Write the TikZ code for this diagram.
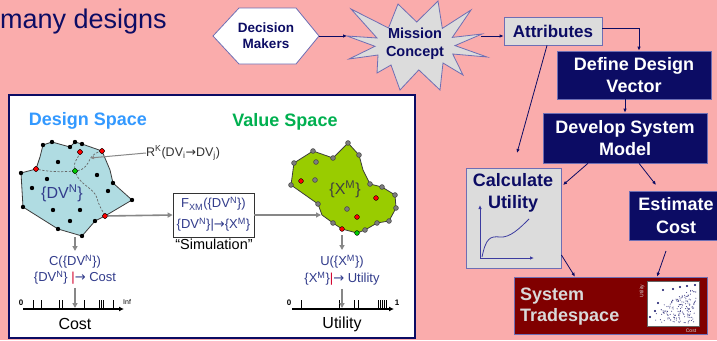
\documentclass[tikz,border=0pt]{standalone}
\usepackage{fontspec}
\setmainfont{Liberation Sans}
\newfontfamily\dejavu{DejaVu Sans}
\usetikzlibrary{arrows.meta}
\definecolor{bgpink}{RGB}{250,172,172}
\definecolor{navy}{RGB}{12,12,100}
\definecolor{boxgray}{RGB}{220,220,220}
\definecolor{darkred}{RGB}{128,0,0}
\definecolor{dsblue}{RGB}{176,220,226}
\definecolor{vsgreen}{RGB}{153,204,0}
\definecolor{titleblue}{RGB}{51,153,255}
\definecolor{titlegreen}{RGB}{0,176,80}
\definecolor{labblue}{RGB}{50,60,140}
\definecolor{linegray}{RGB}{135,135,135}
\definecolor{dotgray}{RGB}{125,125,125}
\definecolor{edgegray}{RGB}{60,60,60}
\definecolor{lavender}{RGB}{110,110,180}
\definecolor{plotblue}{RGB}{60,60,160}
\newcommand{\rarr}{{\dejavu\char"2192}}
\begin{document}
\begin{tikzpicture}[x=1pt,y=-1pt,
  flow/.style={draw=navy, line width=0.8pt, -{Latex[length=4pt,width=3.5pt]}},
  navybox/.style={fill=navy, draw=lavender, line width=0.6pt, text=white, font=\bfseries\fontsize{18}{22}\selectfont, align=center, inner sep=0},
  graybox/.style={fill=boxgray, draw=lavender, line width=0.8pt, text=navy, align=center, inner sep=0},
  gflow/.style={draw=linegray, line width=1.6pt, -{Triangle[length=5pt,width=5pt]}},
  bdot/.style={circle, fill=black, inner sep=0, minimum size=4.4pt},
  rdot/.style={circle, fill=red, draw=black, line width=0.4pt, inner sep=0, minimum size=4.8pt},
  gdot/.style={circle, fill=green!80!black, draw=black, line width=0.4pt, inner sep=0, minimum size=4.8pt},
  vdot/.style={circle, fill=dotgray, draw=edgegray, line width=0.5pt, inner sep=0, minimum size=4.8pt},
  dsh/.style={draw=black!60, line width=0.7pt, dash pattern=on 2.2pt off 1.6pt},
  lab/.style={inner sep=0, text=labblue, font=\fontsize{13}{15}\selectfont},
  tick/.style={line width=0.9pt}
]
\fill[bgpink] (0,0) rectangle (717,340);
\useasboundingbox (0,0) rectangle (717,340);

% title fragment
\node[anchor=base west, inner sep=0, text=navy, font=\fontsize{27}{30}\selectfont] (many) at (0,28) {many designs};

% Decision makers hexagon
\node[minimum width=106pt, minimum height=57pt, inner sep=0] (dm) at (266,36) {};
\filldraw[fill=white, draw=lavender, line width=0.8pt] (213,36) -- (239,8) -- (296,8) -- (319,36) -- (296,64) -- (239,64) -- cycle;
\node[align=center, text=navy, font=\bfseries\fontsize{13.5}{16}\selectfont, inner sep=0] (dmt) at (dm.center) {Decision\\Makers};

% Mission concept star
\filldraw[fill=boxgray, draw=lavender, line width=0.8pt]
 (347,36) -- (377,38) -- (351,9) -- (388.5,28) -- (398,4) -- (416.7,22) -- (438,1) -- (442.3,28.4) -- (471,10) -- (452.3,37.4) -- (482,34) -- (455,45.6) -- (487,57) -- (452.7,54) -- (463,75) -- (443,63) -- (440,90) -- (418.8,69.9) -- (400,90) -- (391,65) -- (377,73) -- (378,55) -- (349,59) -- (375,46.3) -- cycle;
\node[align=center, text=navy, font=\bfseries\fontsize{14.5}{18}\selectfont, inner sep=0] (mc) at (415,44) {Mission\\Concept};
\coordinate (mcL) at (347,36);
\coordinate (mcR) at (481,36);

% right flow boxes
\node[graybox, minimum width=98pt, minimum height=28pt, font=\bfseries\fontsize{17}{20}\selectfont] (attr) at (553,31) {Attributes};
\node[navybox, minimum width=154pt, minimum height=48pt] (ddv) at (634,75) {Define Design\\Vector};
\node[navybox, minimum width=164pt, minimum height=50pt] (dsm) at (625,138) {Develop System\\Model};
\node[graybox, minimum width=95pt, minimum height=100pt] (cu) at (513.5,218) {};
\node[align=center, text=navy, font=\bfseries\fontsize{18}{21.5}\selectfont, inner sep=0] (cut) at (513,193) {Calculate\\Utility};
\node[navybox, minimum width=96pt, minimum height=49pt] (ec) at (677,215.5) {};
\node[align=center, text=white, font=\bfseries\fontsize{18}{23}\selectfont, inner sep=0] (ect) at (676,215.5) {Estimate\\Cost};
\node[fill=darkred, draw=lavender, line width=0.6pt, minimum width=193pt, minimum height=57pt, inner sep=0] (ts) at (610.5,305.5) {};
\node[anchor=west, align=left, text=white!85!black, font=\bfseries\fontsize{18}{21}\selectfont, inner sep=0] (tst) at (520,306.5) {System\\Tradespace};
\node[fill=white, draw=black!60, line width=0.5pt, minimum width=52pt, minimum height=45pt, inner sep=0] (sp) at (673,303.5) {};
\node[rotate=90, text=white!85!black, font=\fontsize{5}{6}\selectfont, inner sep=0] (spu) at (642,291) {Utility};
\node[text=white!85!black, font=\fontsize{5}{6}\selectfont, inner sep=0] (spc) at (691,331) {Cost};
\pgfmathsetseed{5}
\foreach \i in {1,...,150}{
  \pgfmathsetmacro{\u}{sqrt(rnd)}
  \pgfmathsetmacro{\v}{rnd}
  \pgfmathsetmacro{\px}{651+45*\u}
  \pgfmathsetmacro{\py}{323-36*\v*(0.3+0.7*\u)}
  \fill[navy!80] (\px,\py) circle (0.55pt);
}
\foreach \p in {(650,317),(655,311),(658,303),(663,290),(673,289),(680,287),(687,286),(695,285)}
  \fill[navy] \p circle (1.1pt);

% utility sketch
\draw[plotblue, line width=0.8pt, -{Latex[length=4pt,width=3.5pt]}] (480,258) -- (480,205);
\draw[plotblue, line width=0.8pt, -{Latex[length=4pt,width=3.5pt]}] (480,258) -- (534,258);
\draw[plotblue, line width=0.8pt] (482,257) .. controls (486,238) and (490,236) .. (500,237) .. controls (510,238) and (520,228) .. (529,219);

% right flow arrows
\coordinate (cuin) at (517,153);
\coordinate (cuR) at (563,185);
\coordinate (ecin) at (656,185);
\coordinate (ecout) at (666,251);
\draw[flow] (dm.east) -- (mcL);
\draw[flow] (mcR) -- (mcR -| attr.west);
\draw[flow] ([yshift=3pt]attr.east) -| ([xshift=5pt]ddv.north);
\draw[flow] (dsm.north |- ddv.south) -- (dsm.north);
\draw[flow] ([xshift=-6pt]attr.south) -- (cuin);
\draw[flow] ([xshift=-37pt]dsm.south) -- (cuR);
\draw[flow] ([xshift=14pt]dsm.south) -- (ecin);
\draw[flow] ([yshift=-37pt]cu.east) -- ([xshift=-35.5pt]ts.north);
\draw[flow] (ecout) -- ([xshift=46.5pt]ts.north);

% left panel
\filldraw[fill=white, draw=navy, line width=2.5pt] (9,95) rectangle (415,338);
\node[text=titleblue, font=\bfseries\fontsize{18}{20}\selectfont, inner sep=0] (dst) at (88,121) {Design Space};
\node[text=titlegreen, font=\bfseries\fontsize{18}{20}\selectfont, inner sep=0] (vst) at (285,122) {Value Space};

% design blob
\filldraw[fill=dsblue, draw=edgegray, line width=0.8pt]
 (43,145) -- (52,142) -- (70,147) -- (75,142) -- (82,144) -- (102,151) -- (110,170) -- (113,183) -- (132,200) -- (105,216) -- (95,221) -- (82,236) -- (58,229) -- (23,207) -- (21,173) -- (36,169) -- (40,157) -- cycle;
\node[rdot] (rl) at (36,169) {};
\node[rdot] (rt) at (80,152) {};
\node[rdot] (rr) at (102,151) {};
\node[rdot] (rb) at (105,216) {};
\node[gdot] (g) at (75,171) {};
\draw[dsh] (rl) .. controls (50,172) and (62,172) .. (g);
\draw[dsh] (g) .. controls (73,163) and (78,158) .. (rt);
\draw[dsh] (g) .. controls (80,185) and (94,188) .. (97,198) .. controls (99,206) and (102,210) .. (rb);
\draw[dsh] (g) .. controls (84,170) and (88,164) .. (90,159) .. controls (93,154) and (98,152) .. (rr);
\node[rdot] at (36,169) {};
\node[rdot] at (80,152) {};
\node[rdot] at (102,151) {};
\node[rdot] at (105,216) {};
\node[gdot] at (75,171) {};
\foreach \p in {(43,145),(52,142),(70,147),(75,142),(82,144),(113,183),(132,200),(95,221),(82,236),(58,229),(23,207),(21,173),
  (58,162),(97,175),(47,179),(32,188),(108,191),(53,210),(80,210),(70,221)}
  \node[bdot] at \p {};
\node[text=labblue, font=\fontsize{16}{18}\selectfont, inner sep=0] (dvn) at (62,193) {\{DV\textsuperscript{N}\}};
\node[anchor=west, text=black!80, font=\fontsize{12.5}{14}\selectfont, inner sep=0] (rk) at (146,153) {R\textsuperscript{K}(DV\textsubscript{i}\rarr DV\textsubscript{j})};
\coordinate (rkt) at (90,158);
\draw[draw=linegray, line width=1pt, -{Latex[length=4pt,width=3.5pt]}] (rk.west) -- (rkt);

% simulation
\node[draw=black!80, fill=white, line width=0.8pt, minimum width=81pt, minimum height=44pt, inner sep=0] (sim) at (213.5,215) {};
\node[lab] (f1) at (213.5,204) {F\textsubscript{XM}(\{DV\textsuperscript{N}\})};
\node[lab] (f2) at (213.5,225) {\{DV\textsuperscript{N}\}|\rarr\{X\textsuperscript{M}\}};
\node[text=black, font=\fontsize{14.5}{16}\selectfont, inner sep=0] (simt) at (214,244) {``Simulation''};
\draw[gflow] (rb) -- (sim.west);
\coordinate (vin) at (321,215);
\draw[gflow] (sim.east) -- (vin);

% value blob
\filldraw[fill=vsgreen, draw=edgegray, line width=0.8pt]
 (294,163) -- (313,151) -- (333,158) -- (348,143) -- (359,155) -- (363,170) -- (370,184) -- (382,187) -- (395,195) -- (396,208) -- (389,221) -- (377,223) -- (365,230) -- (357,233) -- (342,229) -- (333,223) -- (322,215) -- (318,204) -- (291,185) -- cycle;
\foreach \p in {(294,163),(313,151),(333,158),(348,143),(359,155),(370,184),(382,187),(395,195),(396,208),(389,221),(377,223),(365,230),(333,223),(318,204),(291,185),
  (316,162),(315,180),(347,209)}
  \node[vdot] at \p {};
\foreach \p in {(301,181),(376,198),(357,217),(342,229)}
  \node[rdot] at \p {};
\node[gdot] at (357,233) {};
\node[text=black!75, font=\fontsize{16}{18}\selectfont, inner sep=0] (xm) at (345,189) {\{X\textsuperscript{M}\}};

% cost column
\coordinate (dbot) at (75,237);
\coordinate (cin) at (75,251);
\draw[gflow] (dbot) -- (cin);
\node[lab] (c1) at (75,262) {C(\{DV\textsuperscript{N}\})};
\node[lab] (c2) at (75,278) {\{DV\textsuperscript{N}\} {\color{purple!70!red}|}\rarr\ Cost};
\coordinate (cx0) at (23,309);
\coordinate (cx1) at (124,309);
\coordinate (cxa) at (75,308);
\foreach \x in {33,41,59,62,84,99,101,103,113} \draw[tick] (\x,309) -- (\x,300);
\draw[black, line width=1.5pt, -{Latex[length=5pt,width=5pt]}] (cx0) -- (cx1);
\draw[gflow] ([yshift=-3pt]c2.south) -- (cxa);
\node[font=\bfseries\fontsize{8}{9}\selectfont, inner sep=0] (c0) at (21,303) {0};
\node[anchor=west, font=\fontsize{7}{8}\selectfont, inner sep=0] (cinf) at (123,302) {Inf};
\node[text=black, font=\fontsize{16}{18}\selectfont, inner sep=0] (cost) at (75,324) {Cost};

% utility column
\coordinate (vbot) at (342,235);
\coordinate (uin) at (342,250);
\draw[gflow] (vbot) -- (uin);
\node[lab] (u1) at (342,262) {U(\{X\textsuperscript{M}\})};
\node[lab] (u2) at (342,279) {\{X\textsuperscript{M}\}{\color{purple!70!red}|}\rarr\ Utility};
\coordinate (ux0) at (292,309);
\coordinate (ux1) at (394,309);
\coordinate (uxa) at (342,308);
\foreach \x in {301,339,354,358,378,380,382,384,386} \draw[tick] (\x,309) -- (\x,300);
\draw[black, line width=1.5pt, -{Latex[length=5pt,width=5pt]}] (ux0) -- (ux1);
\draw[gflow] ([yshift=-3pt]u2.south) -- (uxa);
\node[font=\bfseries\fontsize{8}{9}\selectfont, inner sep=0] (u0) at (289,303) {0};
\node[font=\bfseries\fontsize{8}{9}\selectfont, inner sep=0] (u1l) at (397,303) {1};
\node[text=black, font=\fontsize{16}{18}\selectfont, inner sep=0] (util) at (342,324) {Utility};
\end{tikzpicture}
\end{document}
